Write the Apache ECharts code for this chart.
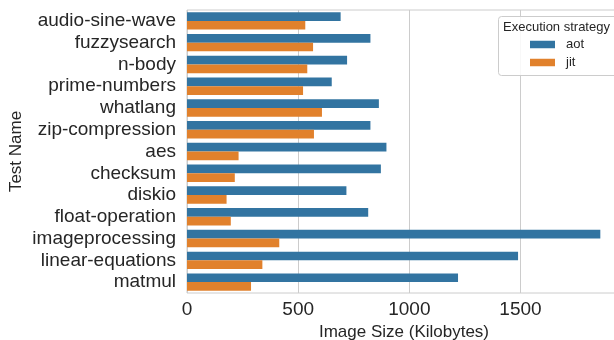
<!DOCTYPE html>
<html>
<head>
<meta charset="utf-8">
<script src="https://cdn.jsdelivr.net/npm/echarts@6/dist/echarts.min.js"></script>
<style>
  html, body { margin: 0; padding: 0; background: #fff; }
  #chart { width: 614px; height: 340px; }
</style>
</head>
<body>
<div id="chart"></div>
<script>
const testNames = [
  'audio-sine-wave', 'fuzzysearch', 'n-body', 'prime-numbers', 'whatlang',
  'zip-compression', 'aes', 'checksum', 'diskio', 'float-operation',
  'imageprocessing', 'linear-equations', 'matmul'
];
const aotSizes = [691, 825, 720, 651, 863, 825, 897, 872, 717, 815, 1859, 1489, 1219];
const jitSizes = [532, 567, 541, 522, 607, 571, 232, 215, 178, 197, 415, 339, 288];
const strategies = ['aot', 'jit'];

const FONT = '"Liberation Sans", Arial, sans-serif';
const TEXT = '#262626';

const chart = echarts.init(document.getElementById('chart'));
chart.setOption({
  animation: false,
  textStyle: { fontFamily: FONT },
  grid: {
    left: 187,
    top: 10,
    width: 434,
    height: 283,
    containLabel: false,
    outerBoundsMode: 'none',
    show: true,
    borderColor: '#cccccc',
    borderWidth: 1,
  },
  xAxis: {
    type: 'value',
    min: 0,
    max: 1952,
    interval: 500,
    name: 'Image Size (Kilobytes)',
    nameLocation: 'middle',
    nameGap: 31,
    nameMoveOverlap: false,
    nameTextStyle: { fontSize: 17, color: TEXT, fontFamily: FONT },
    axisLine: { show: false },
    axisTick: { show: false },
    axisLabel: {
      fontSize: 19,
      color: TEXT,
      margin: 7,
      fontFamily: FONT,
      showMaxLabel: false,
      formatter: v => String(v),
    },
    splitLine: { lineStyle: { color: '#cccccc', width: 1 } },
  },
  yAxis: {
    type: 'category',
    data: testNames,
    inverse: true,
    name: 'Test Name',
    nameLocation: 'middle',
    nameRotate: 90,
    nameGap: 162,
    nameMoveOverlap: false,
    nameTextStyle: { fontSize: 17, color: TEXT, fontFamily: FONT },
    axisLine: { show: false },
    axisTick: { show: false },
    axisLabel: { interval: 0, fontSize: 19, color: TEXT, margin: 11, fontFamily: FONT },
    splitLine: { show: false },
  },
  legend: {
    data: strategies,
    orient: 'vertical',
    left: 530,
    top: 38,
    padding: 0,
    itemWidth: 25,
    itemHeight: 7.5,
    itemGap: 5,
    icon: 'rect',
    z: 6,
    textStyle: { fontSize: 13, color: TEXT, fontFamily: FONT, padding: [0, 0, 0, 6] },
  },
  graphic: [
    {
      type: 'rect',
      z: 5,
      shape: { x: 498.5, y: 16.5, width: 130, height: 59, r: 3 },
      style: { fill: 'rgba(255,255,255,0.85)', stroke: '#cccccc', lineWidth: 1 },
    },
    {
      type: 'text',
      z: 6,
      x: 503,
      y: 27.5,
      style: {
        text: 'Execution strategy',
        fontSize: 13,
        fontFamily: FONT,
        fill: TEXT,
        verticalAlign: 'middle',
      },
    },
  ],
  series: [
    {
      name: 'aot',
      type: 'bar',
      data: aotSizes,
      barGap: '0%',
      barCategoryGap: '20%',
      itemStyle: { color: '#3274a1' },
    },
    {
      name: 'jit',
      type: 'bar',
      data: jitSizes,
      barGap: '0%',
      barCategoryGap: '20%',
      itemStyle: { color: '#e1812c' },
    },
  ],
});
</script>
</body>
</html>
